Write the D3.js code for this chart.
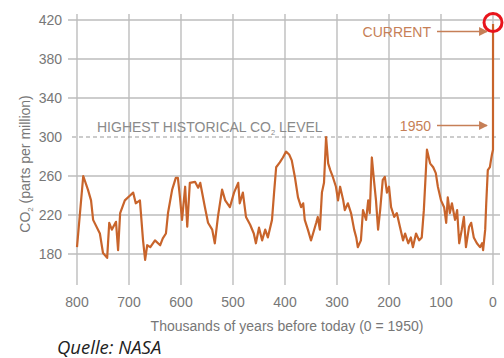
<!DOCTYPE html>
<html><head><meta charset="utf-8">
<script src="https://cdn.jsdelivr.net/npm/d3@7"></script>
<style>body{margin:0;background:#fff}svg{display:block}</style>
</head><body>
<svg id="c" width="504" height="358"></svg>
<script>
const yTicks = [180, 220, 260, 300, 340, 380, 420];
const xTicks = [800, 700, 600, 500, 400, 300, 200, 100, 0];
const kyr = [800,788,779,773,769,756,750,742,738,733,725,721,717,708,698,692,687,679,673,669,665,659,650,640,635,629,625,617,610,606,602,598,592,588,583,573,567,563,554,548,540,535,529,521,515,506,498,490,487,481,475,467,460,456,450,444,438,433,425,421,417,410,404,398,392,387,381,375,369,365,362,356,350,346,340,337,333,329,325,321,317,313,308,302,298,294,288,285,279,273,267,263,260,254,250,244,240,237,233,229,225,221,217,212,208,204,200,196,190,185,179,173,169,163,158,154,148,142,137,133,129,127,121,115,110,106,100,94,90,87,83,79,73,69,65,60,56,52,46,42,37,31,25,21,19,15,13,10,6,4,2,0,-0.07];
const co2 = [187,260,246,235,215,201,181,176,212,205,213,184,222,235,240,243,232,235,194,174,189,187,194,189,196,201,222,246,258,258,238,215,249,208,253,254,248,253,228,212,205,191,218,246,235,228,243,253,232,243,218,210,201,191,207,194,205,197,215,243,269,274,279,285,282,276,259,238,228,232,215,205,194,201,212,218,205,243,253,300,273,266,259,249,235,249,235,225,232,222,205,197,187,194,225,215,235,222,279,256,235,205,225,256,259,243,249,228,218,222,208,194,201,191,197,187,201,194,197,225,266,287,273,269,263,249,235,228,212,238,222,232,215,225,191,205,218,187,208,212,197,191,187,191,184,205,232,266,269,276,282,287,416];
const svg = d3.select("#c");
const x = d3.scaleLinear().domain([800, 0]).range([77, 493]);
const y = d3.scaleLinear().domain([180, 420]).range([254, 20]);
const grid = "#bdbdbd", lab = "#777777", line = "#c8642b", ann = "#c67f57";
const font = "Liberation Sans, Arial, Helvetica, sans-serif";

// horizontal grid
svg.append("g").selectAll("line").data(yTicks.filter(d => d !== 300)).join("line")
  .attr("x1", 68).attr("x2", 500).attr("y1", d => y(d)).attr("y2", d => y(d))
  .attr("stroke", grid).attr("stroke-width", 1.4);
// vertical grid
svg.append("g").selectAll("line").data(xTicks).join("line")
  .attr("x1", d => x(d)).attr("x2", d => x(d)).attr("y1", 14).attr("y2", 285)
  .attr("stroke", grid).attr("stroke-width", 1.4);
// y labels
svg.append("g").selectAll("text").data(yTicks).join("text")
  .attr("x", 62).attr("y", d => y(d) + 5).attr("text-anchor", "end")
  .attr("font-family", font).attr("font-size", 14).attr("fill", lab).text(d => d);
// x labels
svg.append("g").selectAll("text").data(xTicks).join("text")
  .attr("x", d => x(d)).attr("y", 307).attr("text-anchor", "middle")
  .attr("font-family", font).attr("font-size", 14).attr("fill", lab).text(d => d);
// axis titles
svg.append("text").attr("x", 287).attr("y", 331).attr("text-anchor", "middle")
  .attr("font-family", font).attr("font-size", 14).attr("fill", lab)
  .text("Thousands of years before today (0 = 1950)");
const yt = svg.append("text").attr("transform", "translate(30,164) rotate(-90)")
  .attr("text-anchor", "middle").attr("font-family", font).attr("font-size", 14).attr("fill", lab);
yt.append("tspan").text("CO");
yt.append("tspan").attr("font-size", 8).attr("dy", 3).text("2");
yt.append("tspan").attr("dy", -3).text(" (parts per million)");

// dashed highest line
svg.append("line").attr("x1", 72).attr("x2", 497).attr("y1", y(300)).attr("y2", y(300))
  .attr("stroke", "#9a9a9a").attr("stroke-width", 1.2).attr("stroke-dasharray", "4,3");
const ht = svg.append("text").attr("x", 97).attr("y", y(300) - 5)
  .attr("font-family", font).attr("font-size", 14).attr("fill", "#8a8a8a");
ht.append("tspan").text("HIGHEST HISTORICAL CO");
ht.append("tspan").attr("font-size", 7.5).attr("dy", 3).text("2");
ht.append("tspan").attr("dy", -3).text(" LEVEL");

// data line
const pts = kyr.map((k, i) => [k, co2[i]]);
svg.append("path").datum(pts)
  .attr("d", d3.line().x(d => x(d[0])).y(d => y(d[1])))
  .attr("fill", "none").attr("stroke", line).attr("stroke-width", 2.2).attr("stroke-linejoin", "round");

// annotations
const defs = svg.append("defs");
defs.append("marker").attr("id", "ah").attr("viewBox", "0 0 10 10").attr("refX", 9).attr("refY", 5)
  .attr("markerWidth", 6).attr("markerHeight", 5.5).attr("orient", "auto")
  .append("path").attr("d", "M0,0L10,5L0,10Z").attr("fill", ann);
function note(label, yy) {
  svg.append("text").attr("x", 431).attr("y", yy + 5).attr("text-anchor", "end")
    .attr("font-family", font).attr("font-size", 14).attr("fill", ann).text(label);
  svg.append("line").attr("x1", 437).attr("x2", 487).attr("y1", yy).attr("y2", yy)
    .attr("stroke", ann).attr("stroke-width", 1.6).attr("marker-end", "url(#ah)");
}
note("CURRENT", 31.5);
note("1950", 125.5);

// red circle
svg.append("circle").attr("cx", x(0)).attr("cy", 22.5).attr("r", 9)
  .attr("fill", "none").attr("stroke", "#e8141c").attr("stroke-width", 3);

// source
svg.append("text").attr("x", 57).attr("y", 354)
  .attr("font-family", "Open Sans, sans-serif").attr("font-style", "italic")
  .attr("font-size", 18.5).attr("fill", "#222")
  .text("Quelle: NASA");
</script>
</body></html>
